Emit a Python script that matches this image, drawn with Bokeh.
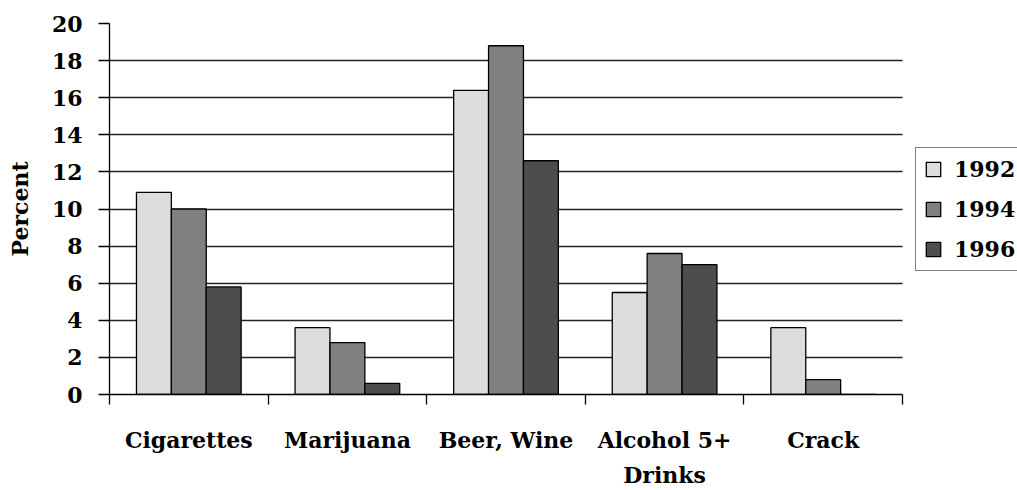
from bokeh.plotting import figure
from bokeh.models import Range1d, FixedTicker, Legend, LegendItem
from bokeh.embed import file_html
from bokeh.resources import INLINE

# Survey results: percent reporting use, by substance and year
categories = ["Cigarettes", "Marijuana", "Beer, Wine", "Alcohol 5+\nDrinks", "Crack"]
years = ["1992", "1994", "1996"]
pct_1992 = [10.9, 3.6, 16.4, 5.5, 3.6]
pct_1994 = [10.0, 2.8, 18.8, 7.6, 0.8]
pct_1996 = [5.8, 0.6, 12.6, 7.0, 0.0]
y_ticks = [0, 2, 4, 6, 8, 10, 12, 14, 16, 18, 20]

series = [pct_1992, pct_1994, pct_1996]
colors = ["#dddddd", "#808080", "#4d4d4d"]
offsets = [-0.22, 0.0, 0.22]
bar_w = 0.22

FONT = "DejaVu Serif"

n = len(categories)
# the plotting area runs on past the last group to leave room for the legend
x_end = n * (1017 - 109) / (902 - 109)

p = figure(width=1017, height=490, output_backend="svg", toolbar_location=None,
           x_range=Range1d(0, x_end), y_range=Range1d(0, 20),
           min_border_left=109, min_border_right=0, min_border_top=23,
           min_border_bottom=94)
p.outline_line_color = None
p.background_fill_color = "white"
p.border_fill_color = "white"

renderers = []
centers = [i + 0.5 for i in range(n)]
for vals, col, off in zip(series, colors, offsets):
    xs = [c + off for c in centers]
    r = p.vbar(x=xs, top=vals, width=bar_w, bottom=0, fill_color=col,
               line_color="black", line_width=1.3)
    renderers.append(r)

# horizontal grid, limited to the span of the groups
p.xgrid.visible = False
p.ygrid.ticker = FixedTicker(ticks=y_ticks)
p.ygrid.cross_bounds = (0, n)
p.ygrid.grid_line_color = "#222222"
p.ygrid.grid_line_width = 1.3
p.ygrid.level = "underlay"

# y axis
ya = p.yaxis[0]
ya.ticker = FixedTicker(ticks=y_ticks)
ya.axis_line_color = "black"
ya.axis_line_width = 1.3
ya.major_tick_out = 11
ya.major_tick_in = 0
ya.major_tick_line_width = 1.3
ya.minor_tick_line_color = None
ya.major_label_standoff = 16
ya.major_label_text_font = FONT
ya.major_label_text_font_style = "bold"
ya.major_label_text_font_size = "22px"
ya.major_label_text_color = "black"
ya.axis_label = "Percent"
ya.axis_label_text_font = FONT
ya.axis_label_text_font_style = "bold"
ya.axis_label_text_font_size = "22px"
ya.axis_label_text_color = "black"
ya.axis_label_standoff = 16

# x axis: labels centred on each group, tick marks at group boundaries
xa = p.xaxis[0]
xa.bounds = (0, n)
xa.ticker = FixedTicker(ticks=centers, minor_ticks=list(range(n + 1)))
xa.major_label_overrides = {c: lab for c, lab in zip(centers, categories)}
xa.major_tick_out = 0
xa.major_tick_in = 0
xa.minor_tick_out = 10
xa.minor_tick_in = 0
xa.minor_tick_line_color = "black"
xa.minor_tick_line_width = 1.3
xa.axis_line_color = "black"
xa.axis_line_width = 1.3
xa.major_label_standoff = 22
xa.major_label_text_font = FONT
xa.major_label_text_font_style = "bold"
xa.major_label_text_font_size = "22px"
xa.major_label_text_color = "black"
xa.major_label_text_line_height = 1.35

legend = Legend(items=[LegendItem(label=y, renderers=[r]) for y, r in zip(years, renderers)],
                location=(806, 123))
legend.border_line_color = "black"
legend.border_line_width = 1
legend.background_fill_color = "white"
legend.background_fill_alpha = 1
legend.label_text_font = FONT
legend.label_text_font_style = "bold"
legend.label_text_font_size = "22px"
legend.label_text_color = "black"
legend.glyph_width = 18
legend.glyph_height = 18
legend.label_standoff = 12
legend.spacing = 14
legend.padding = 8
legend.margin = 0
p.add_layout(legend, "center")

open("out.html", "w").write(file_html(p, INLINE))
